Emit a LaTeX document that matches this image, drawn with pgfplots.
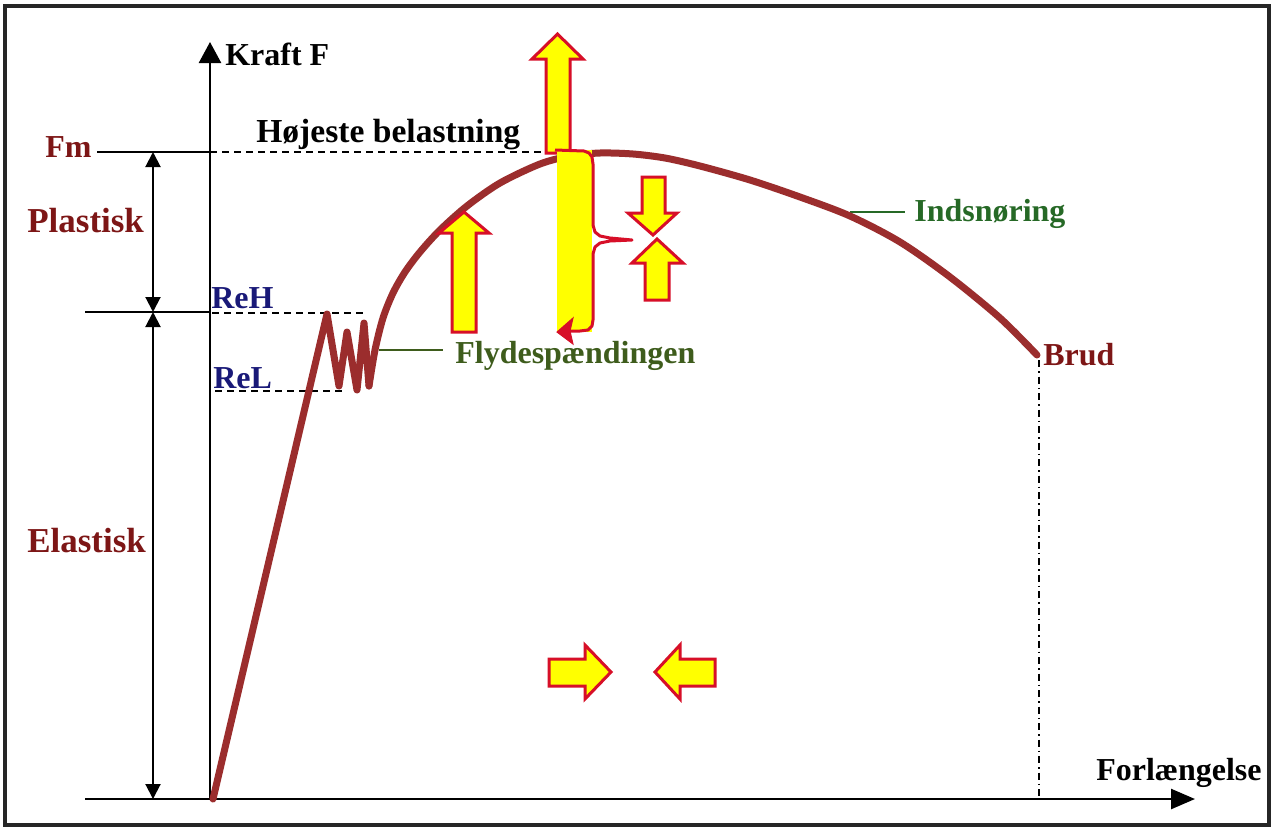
\documentclass[border=0pt]{standalone}
\usepackage{fontspec}
\setmainfont{Liberation Serif}
\usepackage{pgfplots}
\pgfplotsset{compat=1.18}
\usetikzlibrary{arrows.meta}
\definecolor{curvec}{RGB}{155,45,45}
\definecolor{lblred}{RGB}{125,22,22}
\definecolor{lblblue}{RGB}{25,25,120}
\definecolor{lblolive}{RGB}{62,92,28}
\definecolor{lblgreen}{RGB}{38,105,38}
\definecolor{arrred}{RGB}{215,15,40}
\definecolor{arryel}{RGB}{255,255,0}
\tikzset{lbl/.style={font=\fontsize{18.2}{20}\selectfont\bfseries, anchor=base west, inner sep=0pt}}
\begin{document}
\begin{tikzpicture}
\begin{axis}[scale only axis, width=254.8mm, height=165.8mm,
  xmin=0, xmax=1274, ymin=0, ymax=829, y dir=reverse,
  axis lines=none, ticks=none, clip=false]
% background and frame
\addplot[fill=white, draw=none] coordinates {(0,0) (1274,0) (1274,829) (0,829)} -- cycle;
\addplot[draw=black!85, line width=0.8mm] coordinates {(5,6) (1269,6) (1269,825) (5,825)} -- cycle;
% axes
\addplot[black, line width=0.5mm, -{Triangle[width=4.4mm, length=4.2mm]}] coordinates {(210,799) (210,42)};
\addplot[black, line width=0.5mm, -{Triangle[width=4mm, length=4.8mm]}] coordinates {(85,799) (1195,799)};
% dimension lines
\addplot[black, line width=0.4mm, {Triangle[width=3mm, length=3mm]}-{Triangle[width=3mm, length=3mm]}] coordinates {(153,152) (153,312)};
\addplot[black, line width=0.4mm, {Triangle[width=3mm, length=3mm]}-{Triangle[width=3mm, length=3mm]}] coordinates {(153,312) (153,799)};
% reference lines
\addplot[black, line width=0.4mm] coordinates {(97,152) (210,152)};
\addplot[black, line width=0.4mm] coordinates {(85,312) (210,312)};
\addplot[black, line width=0.4mm, dash pattern=on 1.4mm off 1mm] coordinates {(210,152) (548,152)};
\addplot[black, line width=0.4mm, dash pattern=on 1.4mm off 1mm] coordinates {(212,313) (367,313)};
\addplot[black, line width=0.4mm, dash pattern=on 1.4mm off 1mm] coordinates {(215,391) (342,391)};
\addplot[black, line width=0.3mm, dash pattern=on 1.4mm off 0.8mm on 0.3mm off 0.8mm] coordinates {(1039,360) (1039,799)};
% callout lines
\addplot[lblolive, line width=0.4mm] coordinates {(379,350) (443,350)};
\addplot[lblgreen, line width=0.4mm] coordinates {(850,212) (905,212)};
% curve
\addplot[curvec, line width=1.4mm, line join=round, line cap=round] coordinates {
 (213,799) (327,314) (339,386) (347,332) (357,390) (364,323) (369,386)};
\addplot[curvec, line width=1.4mm, line join=round, line cap=round, smooth] coordinates {
 (369,386) (375,350) (383,318) (393,293) (405,272) (420,252) (440,230) (467,206) (500,183)
 (540,164) (570,156) (600,153) (633,154) (665,158) (700,166) (750,180) (800,197) (850,216)
 (900,242) (950,277) (1000,318) (1037,355)};
% yellow arrows
\addplot[fill=arryel, draw=arrred, line width=0.6mm, line join=miter] coordinates {
 (546,153) (570,153) (570,59) (583,59) (557.5,34) (532,59) (546,59)} -- cycle;
\addplot[fill=arryel, draw=arrred, line width=0.6mm] coordinates {
 (452,332) (476,332) (476,233) (489,233) (464,212) (439,233) (452,233)} -- cycle;
\addplot[fill=arryel, draw=arrred, line width=0.6mm] coordinates {
 (642,177) (665,177) (665,213) (677,213) (653,235) (628,213) (642,213)} -- cycle;
\addplot[fill=arryel, draw=arrred, line width=0.6mm] coordinates {
 (645,300) (669,300) (669,263) (683,263) (657,239) (632,263) (645,263)} -- cycle;
\addplot[fill=arryel, draw=arrred, line width=0.6mm] coordinates {
 (549,659) (585,659) (585,645) (611,672) (585,699) (585,686) (549,686)} -- cycle;
\addplot[fill=arryel, draw=arrred, line width=0.6mm] coordinates {
 (715,659) (680,659) (680,645) (655,672) (680,699) (680,686) (715,686)} -- cycle;
% yellow column with brace
\addplot[fill=arryel, draw=none] coordinates {(557,150) (592,150) (592,332) (557,332)} -- cycle;
\addplot[arrred, line width=0.6mm, line join=round] coordinates {
 (555,150) (584,151) (589,153) (592,157) (593,164) (593,225) (595,232) (600,236) (610,238) (632,240)
 (610,241) (600,243) (595,247) (593,254) (593,320) (592,326) (588,330) (580,331) (570,331)};
\addplot[fill=arrred, draw=arrred, line width=0.2mm] coordinates {(573,318) (557,332) (573,344) (570,331)} -- cycle;
% labels
\node[lbl] at (axis cs:225,65) {Kraft F};
\node[lbl, text=lblred] at (axis cs:45,157) {Fm};
\node[lbl, text=lblred, font=\fontsize{19.9}{21}\selectfont\bfseries] at (axis cs:27,232) {Plastisk};
\node[lbl, text=lblred, font=\fontsize{19.9}{21}\selectfont\bfseries] at (axis cs:27,552) {Elastisk};
\node[lbl, text=lblblue] at (axis cs:211,308) {ReH};
\node[lbl, text=lblblue] at (axis cs:213,388) {ReL};
\node[lbl, font=\fontsize{19.1}{21}\selectfont\bfseries] at (axis cs:256,142) {Højeste belastning};
\node[lbl, text=lblolive] at (axis cs:455,363) {Flydespændingen};
\node[lbl, text=lblgreen] at (axis cs:914,221) {Indsnøring};
\node[lbl, text=lblred] at (axis cs:1043,365) {Brud};
\node[lbl] at (axis cs:1096,780) {Forlængelse};
\end{axis}
\end{tikzpicture}
\end{document}
